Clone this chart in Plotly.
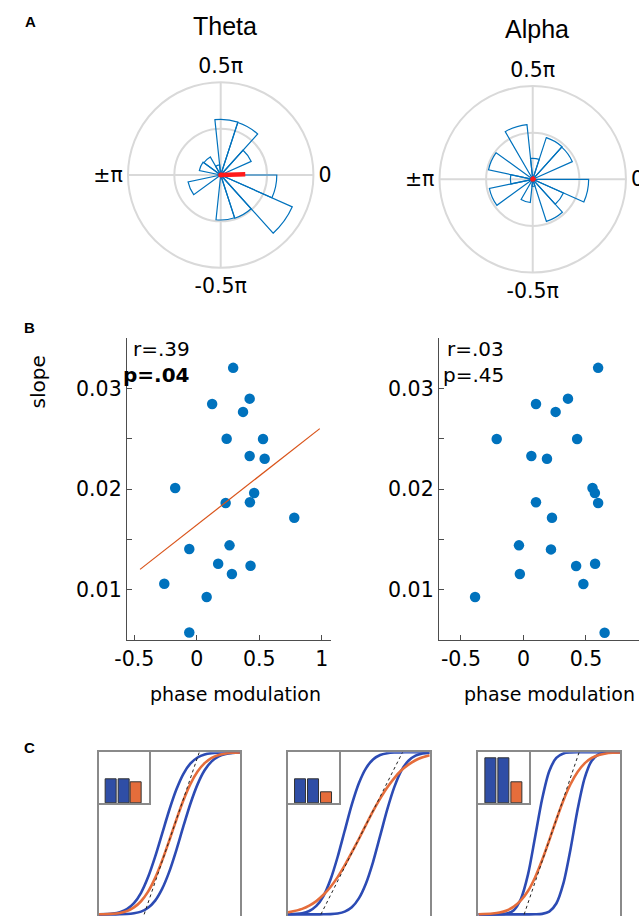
import plotly.graph_objects as go

W, H = 639, 916
def fx(px): return px / W
def fy(py): return 1 - py / H

FONT = "DejaVu Sans"
TFONT = "Liberation Sans"
TICK_SIZE = 20.5

# ---------------- Panel A: rose histograms ----------------
bin_centers_deg = [12, 36, 60, 84, 108, 132, 156, 180, 204, 228, 252, 276, 300, 324, 348]
bin_width_deg = 24
theta_rose_r = [0, 0.72, 1.19, 1.20, 0.22, 0.45, 0.47, 0, 0.72, 0, 0, 0.97, 0.98, 1.69, 1.21]
alpha_rose_r = [0, 0.93, 0.94, 0.45, 1.18, 0, 0.97, 0.48, 0.95, 0, 0.50, 0.15, 0.95, 0.72, 1.20]
theta_mean_angle = [0, 2]
theta_mean_len = [0, 0.53]
alpha_mean_angle = [0, 40]
alpha_mean_len = [0, 0.06]
polar_tick_deg = [0, 90, 180, 270]
polar_tick_text = ["0", "0.5π", "±π", "-0.5π"]
polar_rings = [1]
polar_rmax = 2

# ---------------- Panel B: scatter ----------------
theta_pm = [0.291, 0.123, 0.423, 0.370, 0.239, 0.530, 0.423, 0.543, -0.173, 0.459, 0.231,
            0.425, 0.780, -0.060, 0.262, 0.171, 0.430, 0.281, -0.260, 0.079, -0.060]
slope_theta = [0.03206, 0.02847, 0.02900, 0.02768, 0.02502, 0.02499, 0.02330, 0.02303, 0.02012,
               0.01962, 0.01862, 0.01869, 0.01716, 0.01405, 0.01441, 0.01259, 0.01239, 0.01156,
               0.01060, 0.00927, 0.00575]
alpha_pm = [0.597, 0.100, 0.356, 0.257, -0.214, 0.429, 0.063, 0.188, 0.552, 0.571, 0.100,
            0.597, 0.228, -0.036, 0.220, 0.421, 0.573, -0.029, 0.479, -0.387, 0.649]
slope_alpha = [0.03206, 0.02847, 0.02900, 0.02768, 0.02499, 0.02499, 0.02330, 0.02303, 0.02012,
               0.01962, 0.01869, 0.01862, 0.01716, 0.01441, 0.01401, 0.01236, 0.01259, 0.01156,
               0.01056, 0.00927, 0.00572]
fit_theta_x = [-0.454, 0.984]
fit_theta_y = [0.01202, 0.02602]
stats_theta = ["r=.39", "<b>p=.04</b>"]
stats_alpha = ["r=.03", "p=.45"]
xtick_vals = [-0.5, 0, 0.5, 1]
xtick_text = ["-0.5", "0", "0.5", "1"]
ytick_vals = [0.01, 0.015, 0.02, 0.025, 0.03]
ytick_text = ["0.01", "", "0.02", "", "0.03"]

# ---------------- Panel C: psychometric curves ----------------
curve_x = [0, 10, 15, 20, 25, 30, 35, 40, 45, 50, 55, 60, 65, 70, 75, 80, 85, 90, 95, 100]
p1_blue_a = [0.0, 0.5, 1.3, 3.2, 6.9, 13.3, 23.0, 35.6, 50.0, 64.4, 77.0, 86.7, 93.1, 96.8, 98.7, 99.5, 99.8, 99.95, 100, 100]
p1_blue_b = [0, 0, 0.05, 0.2, 0.7, 1.7, 4.1, 8.5, 15.9, 26.4, 39.7, 54.4, 68.4, 80.2, 88.9, 94.4, 97.5, 99.0, 99.65, 99.9]
p1_orange = [0.04, 0.36, 0.9, 2.0, 4.3, 8.1, 14.0, 22.5, 33.3, 45.6, 58.4, 70.4, 80.5, 88.1, 93.3, 96.6, 98.4, 99.3, 99.7, 99.9]
p2_blue_a = [0.05, 0.7, 2.1, 5.2, 11.3, 21.5, 35.4, 51.6, 67.7, 80.9, 90.1, 95.6, 98.3, 99.45, 99.85, 99.96, 100, 100, 100, 100]
p2_blue_b = [0, 0, 0, 0, 0.04, 0.15, 0.55, 1.7, 4.4, 9.9, 19.1, 32.3, 48.4, 64.6, 78.5, 88.7, 94.8, 97.9, 99.3, 99.8]
p2_orange = [1.2, 3.4, 5.4, 8.2, 12.1, 16.9, 23.0, 30.2, 38.2, 46.5, 55.2, 63.7, 71.4, 78.3, 84.1, 88.9, 92.4, 95.1, 96.9, 98.2]
p3_blue_a = [0, 0, 0.07, 0.5, 2.6, 9.5, 24.5, 47.6, 71.2, 88.3, 96.5, 99.3, 99.9, 100, 100, 100, 100, 100, 100, 100]
p3_blue_b = [0, 0, 0, 0, 0, 0, 0, 0.04, 0.3, 1.7, 6.7, 19.1, 40.1, 64.6, 84.1, 94.8, 98.8, 99.8, 100, 100]
p3_orange = [0.05, 0.5, 1.1, 2.4, 4.8, 8.6, 14.4, 22.8, 33.5, 45.7, 58.4, 70.3, 80.3, 87.9, 93.2, 96.5, 98.3, 99.3, 99.7, 99.9]
tangent_y = [0, 100]
p1_tangent_x = [32.2, 71.2]
p2_tangent_x = [23.2, 80.8]
p3_tangent_x = [32.3, 71.1]
inset_cats = [0, 1, 2]
p1_bars = [0.465, 0.465, 0.406]
p2_bars = [0.465, 0.465, 0.222]
p3_bars = [0.876, 0.876, 0.406]

BLUE_PT = "#0072BD"
FIT_RED = "#D95319"
C_BLUE = "#2C4BB4"
C_ORANGE = "#E56D3B"
BAR_BLUE = "#2F4EA6"
GRID = "#d9d9d9"
AX = "#4d4d4d"
BOX = "#8a8a8a"

fig = go.Figure()

# --- Polar roses ---
for pname, rvals, ma, ml in [("polar", theta_rose_r, theta_mean_angle, theta_mean_len),
                             ("polar2", alpha_rose_r, alpha_mean_angle, alpha_mean_len)]:
    fig.add_trace(go.Barpolar(r=rvals, theta=bin_centers_deg, width=[bin_width_deg] * len(rvals),
                              marker=dict(color="rgba(0,0,0,0)", line=dict(color=BLUE_PT, width=1.2)),
                              subplot=pname, showlegend=False))
    fig.add_trace(go.Scatterpolar(r=ml, theta=ma, mode="lines", line=dict(color="#ff1a1a", width=4.5),
                                  subplot=pname, showlegend=False))
    fig.add_trace(go.Scatterpolar(r=[0], theta=[0], mode="markers", marker=dict(color="#ff1a1a", size=5),
                                  subplot=pname, showlegend=False))

def polar_layout(xd, yd):
    return dict(
        domain=dict(x=xd, y=yd), bgcolor="white",
        radialaxis=dict(range=[0, polar_rmax], tickvals=polar_rings, showticklabels=False, ticks="",
                        showline=False, gridcolor=GRID, gridwidth=2),
        angularaxis=dict(tickvals=polar_tick_deg, ticktext=polar_tick_text, showline=True,
                         linecolor=GRID, linewidth=2, gridcolor=GRID, gridwidth=2, ticks="",
                         rotation=0, direction="counterclockwise",
                         tickfont=dict(family=FONT, size=TICK_SIZE, color="black")),
    )

# --- Scatter panels ---
fig.add_trace(go.Scatter(x=theta_pm, y=slope_theta, mode="markers",
                         marker=dict(color=BLUE_PT, size=10.5), xaxis="x", yaxis="y", showlegend=False))
fig.add_trace(go.Scatter(x=fit_theta_x, y=fit_theta_y, mode="lines",
                         line=dict(color=FIT_RED, width=1.2), xaxis="x", yaxis="y", showlegend=False))
fig.add_trace(go.Scatter(x=alpha_pm, y=slope_alpha, mode="markers",
                         marker=dict(color=BLUE_PT, size=10.5), xaxis="x2", yaxis="y2", showlegend=False))

def sc_x(dom, rng, anchor):
    return dict(domain=dom, range=rng, anchor=anchor, tickvals=xtick_vals, ticktext=xtick_text,
                ticks="inside", ticklen=5, tickcolor=AX, showline=True, linecolor=AX, linewidth=1,
                showgrid=False, zeroline=False, tickfont=dict(family=FONT, size=TICK_SIZE, color="black"))

def sc_y(dom, anchor):
    return dict(domain=dom, range=[0.005, 0.035], anchor=anchor, tickvals=ytick_vals, ticktext=ytick_text,
                ticks="inside", ticklen=5, tickcolor=AX, showline=True, linecolor=AX, linewidth=1,
                showgrid=False, zeroline=False, tickfont=dict(family=FONT, size=TICK_SIZE, color="black"))

# --- Panel C ---
panels = [
    (p1_blue_a, p1_blue_b, p1_orange, p1_tangent_x, p1_bars, 88.3, 232.3, 139.3),
    (p2_blue_a, p2_blue_b, p2_orange, p2_tangent_x, p2_bars, 281.3, 425.7, 333.0),
    (p3_blue_a, p3_blue_b, p3_orange, p3_tangent_x, p3_bars, 475.3, 619.7, 527.0),
]
layout_axes = {}
for i, (ba, bb, orng, tx, bars, x0, x1, xi) in enumerate(panels):
    m = 3 + i
    n = 6 + i
    for yy, col, wdt in [(ba, C_BLUE, 2.6), (bb, C_BLUE, 2.6), (orng, C_ORANGE, 2.6)]:
        fig.add_trace(go.Scatter(x=curve_x, y=yy, mode="lines",
                                 line=dict(color=col, width=wdt, shape="spline", smoothing=0.8),
                                 xaxis=f"x{m}", yaxis=f"y{m}", showlegend=False))
    fig.add_trace(go.Scatter(x=tx, y=tangent_y, mode="lines", line=dict(color="#222", width=1, dash="dot"),
                             xaxis=f"x{m}", yaxis=f"y{m}", showlegend=False))
    fig.add_trace(go.Bar(x=inset_cats, y=bars, width=0.86,
                         marker=dict(color=[BAR_BLUE, BAR_BLUE, C_ORANGE], line=dict(color="#333", width=1)),
                         xaxis=f"x{n}", yaxis=f"y{n}", showlegend=False))
    layout_axes[f"xaxis{m}"] = dict(domain=[fx(x0), fx(x1)], range=[0, 100], anchor=f"y{m}", side="top",
                                    showline=True, linecolor=BOX, linewidth=1.5, showticklabels=False,
                                    ticks="", showgrid=False, zeroline=False)
    layout_axes[f"yaxis{m}"] = dict(domain=[0, fy(752.3)], range=[-1, 100], anchor=f"x{m}", showline=True,
                                    mirror=True, linecolor=BOX, linewidth=1.5, showticklabels=False,
                                    ticks="", showgrid=False, zeroline=False)
    layout_axes[f"xaxis{n}"] = dict(domain=[fx(x0), fx(xi)], range=[-1.02, 2.99], anchor=f"y{n}",
                                    showline=True, mirror=True, linecolor=BOX, linewidth=1.5,
                                    showticklabels=False, ticks="", showgrid=False, zeroline=False)
    layout_axes[f"yaxis{n}"] = dict(domain=[fy(803.3), fy(752.3)], range=[0, 1], anchor=f"x{n}",
                                    showline=True, mirror=True, linecolor=BOX, linewidth=1.5,
                                    showticklabels=False, ticks="", showgrid=False, zeroline=False)

def ann(text, px, py, size=20, family=FONT, xanchor="center", yanchor="middle", angle=0, color="black"):
    return dict(text=text, x=fx(px), y=fy(py), xref="paper", yref="paper", showarrow=False,
                xanchor=xanchor, yanchor=yanchor, textangle=angle,
                font=dict(family=family, size=size, color=color))

annotations = [
    ann("<b>A</b>", 19, 21, size=15, family=TFONT),
    ann("<b>B</b>", 18, 328, size=15, family=TFONT),
    ann("<b>C</b>", 18, 747, size=15, family=TFONT),
    ann("Theta", 217, 26, size=25, family=TFONT),
    ann("Alpha", 535, 29, size=25, family=TFONT),
    ann("slope", 26, 382, angle=-90),
    ann("phase modulation", 227.5, 694, size=19),
    ann("phase modulation", 637, 694, size=19, xanchor="right"),
    ann(stats_theta[0], 183.3, 349, xanchor="right"),
    ann(stats_theta[1], 183.3, 375, xanchor="right"),
    ann(stats_alpha[0], 503.3, 349, xanchor="right"),
    ann(stats_alpha[1], 503.3, 375, xanchor="right"),
]

fig.update_layout(
    width=W, height=H, margin=dict(l=0, r=0, t=0, b=0),
    paper_bgcolor="white", plot_bgcolor="white", showlegend=False,
    polar=polar_layout([fx(118.2), fx(307.2)], [fy(269.5), fy(80.5)]),
    polar2=polar_layout([fx(435.7), fx(625.7)], [fy(274.3), fy(84.3)]),
    xaxis=sc_x([fx(117), fx(325)], [-0.56, 1.073], "y"),
    yaxis=sc_y([fy(640), fy(338.3)], "x"),
    xaxis2=sc_x([fx(435), 1.0], [-0.677, 0.924], "y2"),
    yaxis2=sc_y([fy(640), fy(338.3)], "x2"),
    annotations=annotations,
    bargap=0,
    **layout_axes,
)

fig.write_html("out.html")
